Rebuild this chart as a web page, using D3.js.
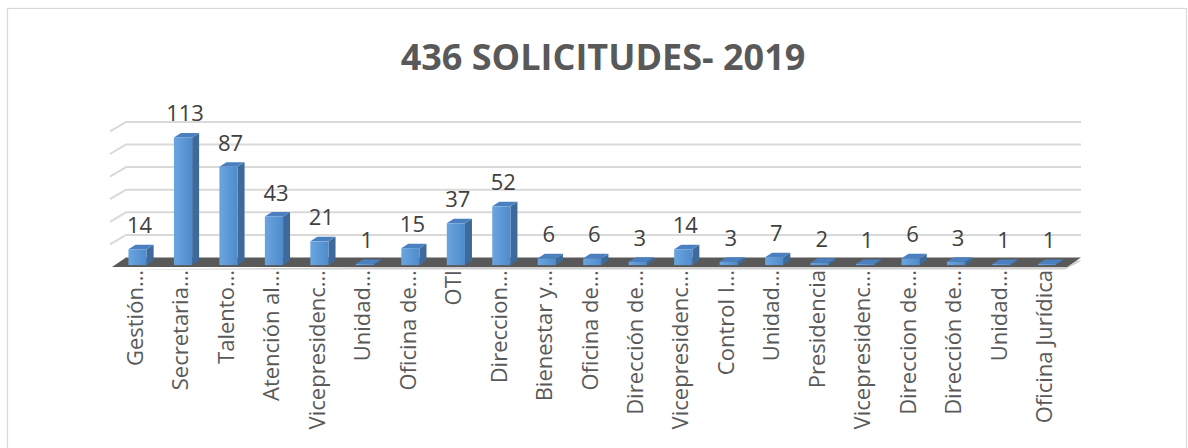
<!DOCTYPE html>
<html>
  <head>
    <meta charset="UTF-8">
    <script src="https://d3js.org/d3.v7.min.js"></script>
    <style>
      body { margin: 0; background: #fff; }
      text { font-family: "Open Sans", sans-serif; }
    </style>
    <title>436 Solicitudes 2019</title>
  </head>
  <body>
    <svg id="chart" width="1188" height="448"></svg>
    <script>
      // data
      const categories = ["Gestión…", "Secretaria…", "Talento…", "Atención al…", "Vicepresidenc…",
        "Unidad…", "Oficina de…", "OTI", "Direccion…", "Bienestar y…", "Oficina de…",
        "Dirección de…", "Vicepresidenc…", "Control I…", "Unidad…", "Presidencia",
        "Vicepresidenc…", "Direccion de…", "Dirección de…", "Unidad…", "Oficina Jurídica"];
      const values = [14, 113, 87, 43, 21, 1, 15, 37, 52, 6, 6, 3, 14, 3, 7, 2, 1, 6, 3, 1, 1];
      const gridTicks = [0, 20, 40, 60, 80, 100, 120];
      const title = "436 SOLICITUDES- 2019";

      const svg = d3.select("svg#chart");
      const data = categories.map((c, i) => ({ key: i, name: c, value: values[i] }));

      // frame
      svg.append("rect")
         .attr("x", 7.5).attr("y", 8.5)
         .attr("width", 1179).attr("height", 460)
         .attr("fill", "#fff").attr("stroke", "#d9d9d9").attr("stroke-width", 1.2);

      svg.append("text")
         .attr("x", 603).attr("y", 70)
         .attr("text-anchor", "middle")
         .attr("font-size", 36).attr("font-weight", "bold")
         .attr("fill", "#595959")
         .text(title);

      // 3d geometry
      const floorFront = 267;
      const depth = { dx: 14, dy: -9.5 };
      const barDepth = { dx: 7, dy: -4.5 };
      const barShift = 0.2;

      const x = d3.scaleBand().domain(data.map(d => d.key))
                  .range([112, 1067]).paddingInner(0.6).paddingOuter(0.3);
      const h = d3.scaleLinear().domain([0, 120]).range([0, 135.6]);
      const yBack = v => floorFront + depth.dy - h(v);

      // gridlines on the back wall + side slant
      const grid = svg.append("g").attr("class", "gridlines");
      gridTicks.filter(t => t > 0).forEach(t => {
        const y = yBack(t);
        grid.append("path")
            .attr("d", `M${110},${y - depth.dy} L${112 + depth.dx},${y} L${1067 + depth.dx},${y}`)
            .attr("fill", "none").attr("stroke", "#d9d9d9").attr("stroke-width", 2);
      });

      // floor
      const x0 = 112, x1 = 1067;
      svg.append("path")
         .attr("d", `M${x0 - 2},${floorFront + 2.5} L${x1 - 2},${floorFront + 2.5} L${x1 + depth.dx + 1},${floorFront + depth.dy + 3} Z`)
         .attr("fill", "#d0d0d0");
      svg.append("path")
         .attr("d", `M${x0},${floorFront} L${x1},${floorFront} L${x1 + depth.dx},${floorFront + depth.dy} L${x0 + depth.dx},${floorFront + depth.dy} Z`)
         .attr("fill", "#595959");

      // bar gradient
      const defs = svg.append("defs");
      const grad = defs.append("linearGradient").attr("id", "front")
                       .attr("x1", 0).attr("x2", 1).attr("y1", 0).attr("y2", 0);
      grad.append("stop").attr("offset", "0%").attr("stop-color", "#6aa5e0");
      grad.append("stop").attr("offset", "100%").attr("stop-color", "#4f8bcb");

      const bars = svg.append("g").selectAll("g.bar").data(data).enter()
                      .append("g").attr("class", "bar");

      const bx = d => x(d.key) + depth.dx * barShift;
      const by = floorFront + depth.dy * barShift;
      const bw = x.bandwidth();

      // side face
      bars.append("path")
          .attr("d", d => {
            const l = bx(d) + bw, t = by - h(d.value);
            return `M${l},${by} L${l},${t} L${l + barDepth.dx},${t + barDepth.dy} L${l + barDepth.dx},${by + barDepth.dy} Z`;
          })
          .attr("fill", "#3d6a9b");
      // top face
      bars.append("path")
          .attr("d", d => {
            const l = bx(d), t = by - h(d.value);
            return `M${l},${t} L${l + bw},${t} L${l + bw + barDepth.dx},${t + barDepth.dy} L${l + barDepth.dx},${t + barDepth.dy} Z`;
          })
          .attr("fill", "#4a80bf");
      // front face
      bars.append("rect")
          .attr("x", d => bx(d))
          .attr("y", d => by - h(d.value))
          .attr("width", bw)
          .attr("height", d => h(d.value))
          .attr("fill", "url(#front)");

      // value labels
      bars.append("text")
          .attr("x", d => bx(d) + bw / 2 + 2)
          .attr("y", d => by - h(d.value) - 16)
          .attr("text-anchor", "middle")
          .attr("font-size", 22)
          .attr("fill", "#404040")
          .text(d => d.value);

      // category labels
      svg.append("g").selectAll("text.cat").data(data).enter()
         .append("text")
         .attr("class", "cat")
         .attr("transform", d => `translate(${x(d.key) + bw / 2 + 8},270) rotate(-90)`)
         .attr("text-anchor", "end")
         .attr("font-size", 22)
         .attr("fill", "#595959")
         .text(d => d.name);
    </script>
  </body>
</html>
